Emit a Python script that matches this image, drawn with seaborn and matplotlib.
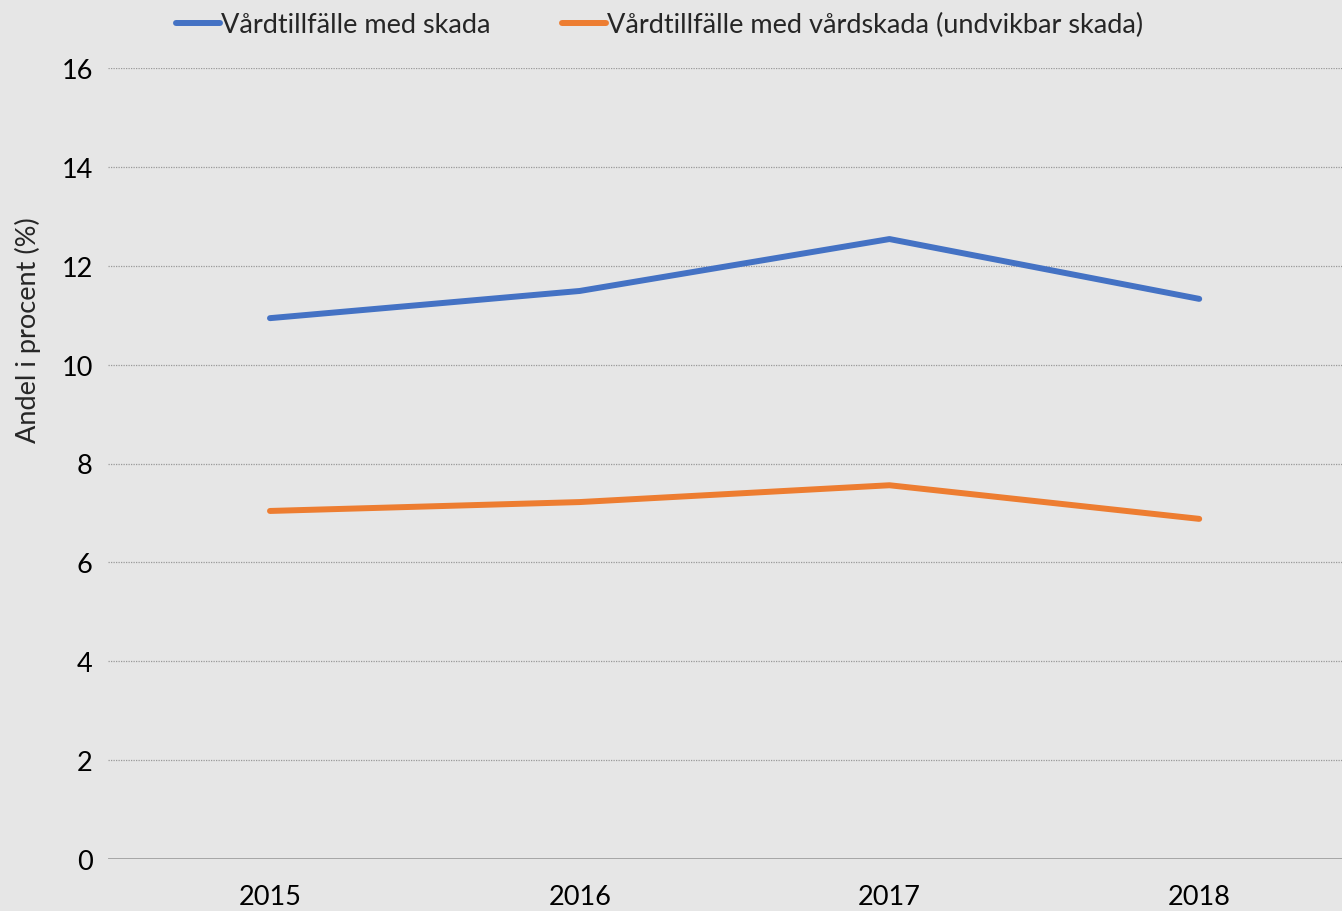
import matplotlib.pyplot as plt
import pandas as pd
import seaborn as sns

years = ["2015", "2016", "2017", "2018"]
skada = [10.94, 11.49, 12.54, 11.33]
vardskada = [7.04, 7.22, 7.56, 6.88]
series_names = ["Vårdtillfälle med skada", "Vårdtillfälle med vårdskada (undvikbar skada)"]
y_ticks = [0, 2, 4, 6, 8, 10, 12, 14, 16]

df = pd.DataFrame({
    "year": years * 2,
    "pos": list(range(len(years))) * 2,
    "value": skada + vardskada,
    "series": [series_names[0]] * len(years) + [series_names[1]] * len(years),
})

sns.set_style("white")
plt.rcParams["font.family"] = ["Lato", "DejaVu Sans"]
bg = "#e6e6e6"
fs = 19.5

fig = plt.figure(figsize=(13.42, 9.12), dpi=100, facecolor=bg)
ax = fig.add_axes([108 / 1342, 1 - 860 / 912, 1 - 108 / 1342, (860 - 69) / 912])
ax.set_facecolor(bg)

sns.lineplot(data=df, x="pos", y="value", hue="series",
             palette=["#4472C4", "#ED7D31"], linewidth=4.3, ax=ax,
             solid_capstyle="round")

ax.set_xlim(-0.523, 3.461)
ax.set_ylim(0, 16)
ax.set_yticks(y_ticks)
ax.set_xticks(range(len(years)))
ax.set_xticklabels(years)
ax.tick_params(axis="both", length=0, labelsize=fs, colors="black")
ax.tick_params(axis="x", pad=18)
ax.tick_params(axis="y", pad=11)
for y in y_ticks[1:]:
    ax.axhline(y, color="#999999", linestyle=(0, (1, 1)), linewidth=0.9, zorder=0)
ax.axhline(0, color="#a0a0a0", linewidth=2, zorder=1)
for s in ax.spines.values():
    s.set_visible(False)
ax.set_xlabel("")
ax.set_ylabel("Andel i procent (%)", fontsize=fs)
ax.yaxis.set_label_coords(-0.054, 0.67)

handles, labels = ax.get_legend_handles_labels()
for h in handles:
    h.set_solid_capstyle("round")
ax.legend(handles, labels, loc="center", bbox_to_anchor=(0.447, 1.055), ncol=2,
          frameon=False, fontsize=fs, handlelength=1.6, handletextpad=0.05,
          columnspacing=2.65, borderaxespad=0)

fig.savefig("out.png", dpi=100, facecolor=bg)
